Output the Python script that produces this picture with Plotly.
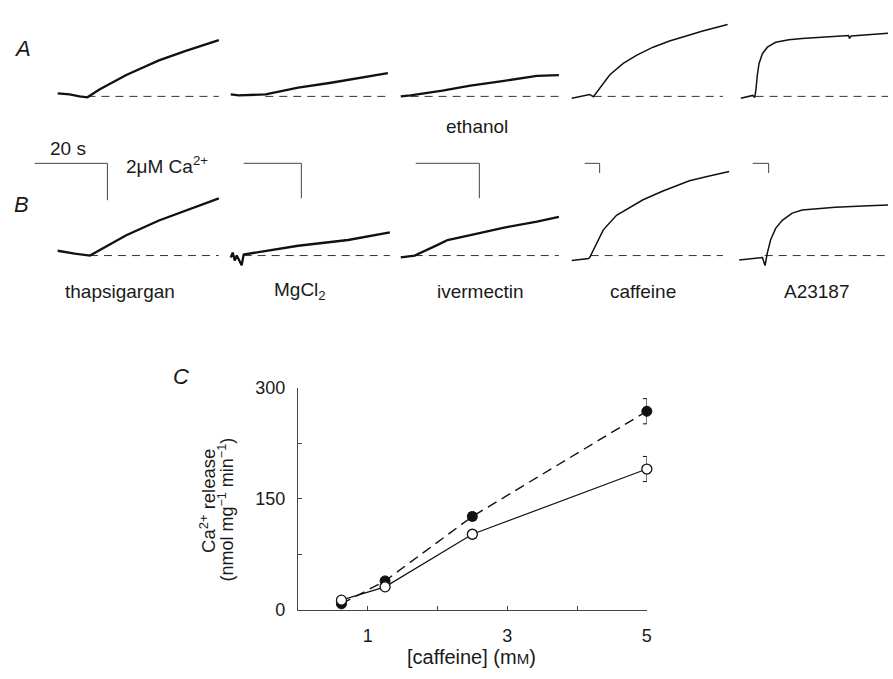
import plotly.graph_objects as go

FONT = "Liberation Sans, Arial, Helvetica, sans-serif"
W, H = 893, 679

# ---------------- Panels A / B : recordings (time in s, Ca2+ above baseline in uM)
a_thaps_t = [0, 3.3, 6.0, 8.2, 11.5, 18.9, 27.9, 35.3, 44.4]
a_thaps_v = [0.16, 0.11, 0.0, -0.05, 0.37, 1.16, 1.95, 2.47, 3.05]
a_mgcl_t = [0, 2.8, 12.1, 23.4, 34.8, 46.6, 54.5]
a_mgcl_v = [0.11, 0.06, 0.11, 0.5, 0.78, 1.11, 1.33]
a_iver_t = [0, 3.1, 13.1, 21.9, 32.5, 42.8, 49.7]
a_iver_v = [0.0, 0.06, 0.33, 0.61, 0.89, 1.17, 1.22]
a_caff_t = [1.3, 25.3, 30.3, 39.1, 52.4, 70.3, 88.0, 110.3, 132.4, 154.7, 176.9, 210.3]
a_caff_v = [-0.4, 0.4, -0.06, 1.8, 4.46, 6.8, 8.46, 10.14, 11.4, 12.46, 13.46, 14.8]
a_a23_t = [2.5, 17.5, 20.0, 21.3, 23.3, 25.4, 29.6, 35.9, 46.3, 62.9, 79.6, 121.3, 137.9, 139.1, 141.3, 187.5]
a_a23_v = [-0.4, 0.2, -0.2, 1.14, 4.46, 6.8, 8.8, 10.14, 11.14, 11.66, 11.94, 12.34, 12.54, 11.94, 12.46, 13.0]
b_thaps_t = [0, 4.7, 8.9, 18.9, 27.9, 35.3, 44.4]
b_thaps_v = [0.26, 0.10, 0.0, 1.1, 1.9, 2.42, 3.1]
b_mgcl_t = [0, 0.7, 1.4, 2.1, 3.8, 4.5, 23.4, 40.7, 55.2]
b_mgcl_v = [-0.11, 0.17, -0.28, 0.0, -0.56, 0.06, 0.56, 0.89, 1.33]
b_iver_t = [0, 4.4, 11.6, 14.7, 21.9, 32.5, 42.8, 49.7]
b_iver_v = [-0.11, 0.0, 0.61, 0.89, 1.17, 1.6, 1.94, 2.22]
b_caff_t = [1.3, 24.0, 25.7, 34.7, 43.6, 61.3, 79.1, 96.9, 123.6, 141.3, 159.1, 185.7, 212.4]
b_caff_v = [-1.0, -0.6, -0.3, 2.6, 5.3, 8.3, 9.9, 11.5, 13.3, 14.3, 15.4, 16.4, 17.3]
b_a23_t = [0.4, 29.6, 32.9, 35.9, 40.0, 46.3, 54.6, 67.1, 79.6, 121.3, 163.0, 188.0]
b_a23_v = [-0.94, -0.4, -2.06, 0.6, 3.26, 5.6, 7.26, 8.74, 9.4, 9.94, 10.26, 10.4]

row_a = [(a_thaps_t, a_thaps_v), (a_mgcl_t, a_mgcl_v), (a_iver_t, a_iver_v),
         (a_caff_t, a_caff_v), (a_a23_t, a_a23_v)]
row_b = [(b_thaps_t, b_thaps_v), (b_mgcl_t, b_mgcl_v), (b_iver_t, b_iver_v),
         (b_caff_t, b_caff_v), (b_a23_t, b_a23_v)]

# dashed baselines (time span, s)
a_base_t0 = [8.2, 12.0, 3.1, 30.7, 21.0]
a_base_t1 = [44.4, 53.8, 49.7, 204.0, 187.5]
b_base_t0 = [8.9, 4.5, 4.4, 26.7, 32.5]
b_base_t1 = [44.4, 55.2, 49.7, 204.0, 187.5]

# calibration bars (20 s / 2 uM) for each column
scale_seconds = 20
scale_uM = 2
scale_t0 = [-6.3, 4.5, 4.7, 18.7, 17.5]
scale_top = [5.0, 5.28, 5.28, 19.0, 19.0]

treatments = ["thapsigargan", "MgCl<sub>2</sub>", "ivermectin", "caffeine", "A23187"]

# column geometry (pixels) and per-column calibration
col_left = [30, 230, 400, 572, 741]
col_right = [230, 400, 572, 741, 893]
col_origin = [58, 232, 403, 574, 743]
col_px_per_s = [3.65, 2.9, 3.2, 0.75, 0.8]
col_px_per_uM = [19, 18, 18, 5, 5]
row_top = [5, 150]
row_bot = [100, 270]
row_base = [89, 253]

# ---------------- Panel C
caffeine_mM = [0.625, 1.25, 2.5, 5]
release_filled = [8, 39, 126, 268]
sem_filled = [3, 4, 5, 17]
release_open = [13, 31, 102, 190]
sem_open = [3, 4, 5, 17]

fig = go.Figure()
layout = dict(width=W, height=H, margin=dict(l=0, r=0, t=0, b=0),
              paper_bgcolor="white", plot_bgcolor="rgba(0,0,0,0)",
              showlegend=False, font=dict(family=FONT, size=19, color="#1a1a1a"))


def ax_names(n):
    return ("xaxis" if n == 1 else f"xaxis{n}", "yaxis" if n == 1 else f"yaxis{n}",
            "x" if n == 1 else f"x{n}", "y" if n == 1 else f"y{n}")


smooth_cols = {3, 4}
for r, row in enumerate([row_a, row_b]):
    bt0 = a_base_t0 if r == 0 else b_base_t0
    bt1 = a_base_t1 if r == 0 else b_base_t1
    for c in range(5):
        n = r * 5 + c + 1
        xk, yk, xr, yr = ax_names(n)
        L, R, x0 = col_left[c], col_right[c], col_origin[c]
        ps, pu = col_px_per_s[c], col_px_per_uM[c]
        top, bot, base = row_top[r], row_bot[r], row_base[r]
        layout[xk] = dict(domain=[L / W, R / W], range=[(L - x0) / ps, (R - x0) / ps],
                          visible=False, fixedrange=True, anchor=yr)
        layout[yk] = dict(domain=[1 - bot / H, 1 - top / H],
                          range=[(base - bot) / pu, (base - top) / pu],
                          visible=False, fixedrange=True, anchor=xr)
        fig.add_trace(go.Scatter(x=[bt0[c], bt1[c]], y=[0, 0], mode="lines", xaxis=xr, yaxis=yr,
                                 line=dict(color="#333", width=1, dash="8px,6px"),
                                 hoverinfo="skip", cliponaxis=False))
        t, v = row[c]
        wid = 1.5 if c in smooth_cols else 2.3
        fig.add_trace(go.Scatter(x=t, y=v, mode="lines", xaxis=xr, yaxis=yr,
                                 line=dict(color="#111", width=wid), hoverinfo="skip",
                                 cliponaxis=False))
        if r == 1:
            st, sv = scale_t0[c], scale_top[c]
            fig.add_trace(go.Scatter(x=[st, st + scale_seconds, st + scale_seconds],
                                     y=[sv, sv, sv - scale_uM], mode="lines",
                                     xaxis=xr, yaxis=yr, line=dict(color="#444", width=1),
                                     hoverinfo="skip", cliponaxis=False))

# Panel C axes
cx_l, cx_r = 299.5, 650.5
cy_b, cy_t = 618, 389
layout["xaxis11"] = dict(domain=[cx_l / W, cx_r / W], range=[0, 5], anchor="y11",
                         showline=True, linecolor="#444", linewidth=1, ticks="inside",
                         ticklen=4, tickcolor="#444", tickvals=[1, 2, 3, 4, 5],
                         ticktext=["1", "", "3", "", "5"], showgrid=False, zeroline=False,
                         tickfont=dict(size=18, color="#1a1a1a"), ticklabelstandoff=10,
                         fixedrange=True)
layout["yaxis11"] = dict(domain=[1 - cy_b / H, 1 - cy_t / H], range=[0, 300], anchor="x11",
                         showline=True, linecolor="#444", linewidth=1, ticks="inside",
                         ticklen=4, tickcolor="#444", tickvals=[0, 75, 150, 225, 300],
                         ticktext=["0", "", "150", "", "300"], showgrid=False, zeroline=False,
                         tickfont=dict(size=18, color="#1a1a1a"), ticklabelstandoff=8,
                         fixedrange=True)

fig.add_trace(go.Scatter(x=caffeine_mM, y=release_filled, mode="lines+markers",
                         xaxis="x11", yaxis="y11", cliponaxis=False,
                         line=dict(color="#111", width=1.4, dash="10px,6px"),
                         marker=dict(size=10, color="#111", line=dict(color="#111", width=1)),
                         error_y=dict(type="data", array=sem_filled, color="#111",
                                      thickness=1, width=4)))
fig.add_trace(go.Scatter(x=caffeine_mM, y=release_open, mode="lines+markers",
                         xaxis="x11", yaxis="y11", cliponaxis=False,
                         line=dict(color="#111", width=1.2),
                         marker=dict(size=10, color="white", line=dict(color="#111", width=1.3)),
                         error_y=dict(type="data", array=sem_open, color="#111",
                                      thickness=1, width=4)))


def ann(text, px, py, size=19, xanchor="center", italic=False, angle=0):
    return dict(text=(f"<i>{text}</i>" if italic else text), x=px / W, y=1 - py / H,
                xref="paper", yref="paper", showarrow=False, xanchor=xanchor,
                yanchor="middle", textangle=angle,
                font=dict(family=FONT, size=size, color="#1a1a1a"))


annotations = [
    ann("A", 23, 40, size=22, italic=True),
    ann("B", 22, 200, size=22, italic=True),
    ann("C", 182, 378, size=22, italic=True),
    ann("ethanol", 480, 120),
    ann("20 s", 68, 143),
    ann("2\u03bcM Ca<sup>2+</sup>", 125, 160, xanchor="left"),
    ann("Ca<sup>2+</sup> release", 209, 506, size=18.5, angle=-90),
    ann("(nmol mg<sup>\u22121</sup> min<sup>\u22121</sup>)", 228, 515, size=18, angle=-90),
    ann("[caffeine] (m<span style='font-size:15px'>M</span>)", 474, 667, size=20),
]
label_x = [121, 302, 483, 647, 822]
for name, lx in zip(treatments, label_x):
    annotations.append(ann(name, lx, 290))

layout["annotations"] = annotations
fig.update_layout(**layout)
fig.write_html("out.html", config={"displayModeBar": False},
               post_script="document.body.style.margin='0';document.body.style.overflow='hidden';")
